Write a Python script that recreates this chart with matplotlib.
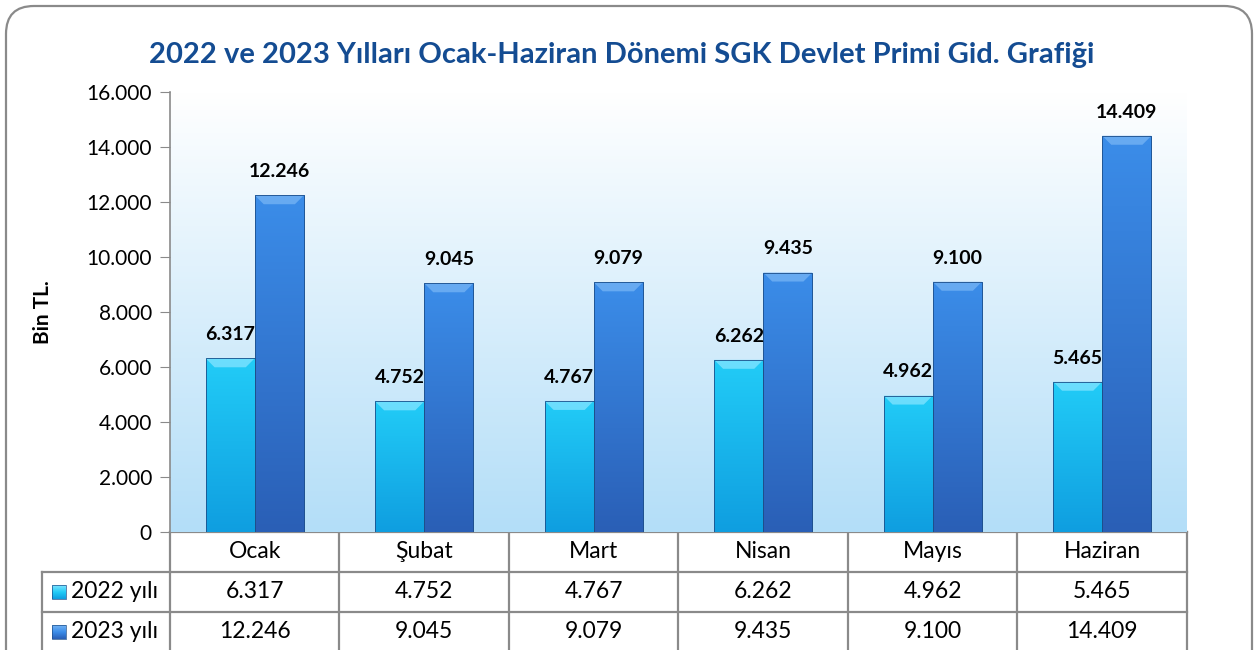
import matplotlib.pyplot as plt
import numpy as np
from matplotlib.patches import FancyBboxPatch, Rectangle, Polygon
from matplotlib.colors import LinearSegmentedColormap

months = ['Ocak', 'Şubat', 'Mart', 'Nisan', 'Mayıs', 'Haziran']
y2022 = [6317, 4752, 4767, 6262, 4962, 5465]
y2023 = [12246, 9045, 9079, 9435, 9100, 14409]
series_names = ['2022 yılı', '2023 yılı']
title = '2022 ve 2023 Yılları Ocak-Haziran Dönemi SGK Devlet Primi Gid. Grafiği'

plt.rcParams['font.family'] = ['Lato', 'DejaVu Sans']

W, H = 1259, 650
fig = plt.figure(figsize=(W / 100, H / 100), dpi=100)

# pixel overlay for frame and table
bg = fig.add_axes([0, 0, 1, 1])
bg.set_xlim(0, W)
bg.set_ylim(H, 0)
bg.axis('off')
bg.add_patch(FancyBboxPatch((6, 6), 1246, 700, boxstyle='round,pad=0,rounding_size=28',
                            fc='white', ec='#8a8a8a', lw=1.6))

left, right, top, bottom = 170, 1187, 92, 532
ax = fig.add_axes([left / W, 1 - bottom / H, (right - left) / W, (bottom - top) / H])
ax.set_xlim(-0.5, 5.5)
ax.set_ylim(0, 16000)

fmt = lambda v: f'{v:,}'.replace(',', '.')

# background gradient, white on top
bgmap = LinearSegmentedColormap.from_list('bgg', ['#ffffff', '#b3def8'])
ax.imshow(np.linspace(0, 1, 256).reshape(-1, 1), cmap=bgmap, aspect='auto',
          extent=[-0.5, 5.5, 0, 16000], zorder=0)

colors = [('#22ccf7', '#0f9ee0', '#7fe3ff'), ('#3b8de9', '#2a5fb6', '#73b2f4')]
bw = 0.29
dx = 9 / ((right - left) / 6)
dy = 9 * 16000 / (bottom - top)
x = np.arange(len(months))
for s, (vals, (ctop, cbot, clight)) in enumerate(zip([y2022, y2023], colors)):
    cmap = LinearSegmentedColormap.from_list('b%d' % s, [ctop, cbot])
    for i, v in enumerate(vals):
        x0 = x[i] - bw + s * bw
        rect = Rectangle((x0, 0), bw, v, fc='none', ec='#1d4f8a', lw=0.6, zorder=3)
        ax.add_patch(rect)
        im = ax.imshow(np.linspace(0, 1, 128).reshape(-1, 1), cmap=cmap, aspect='auto',
                       extent=[x0, x0 + bw, 0, v], zorder=2)
        im.set_clip_path(rect)
        ax.add_patch(Polygon([(x0, v), (x0 + bw, v), (x0 + bw - dx, v - dy), (x0 + dx, v - dy)],
                             fc=clight, ec='none', alpha=0.8, zorder=2.5))
        ax.text(x0 + bw / 2, v + 550, fmt(v), ha='center', va='bottom',
                fontsize=14, fontweight='bold', color='black', zorder=4)

ax.set_xticks([])
ax.set_yticks(np.arange(0, 16001, 2000))
ax.set_yticklabels([fmt(t) for t in range(0, 16001, 2000)], fontsize=15)
ax.tick_params(axis='y', length=7, color='#8a8a8a', pad=6)
for sp in ['top', 'right', 'bottom']:
    ax.spines[sp].set_visible(False)
ax.spines['left'].set_color('#8a8a8a')
ax.spines['left'].set_linewidth(1.2)
ax.set_ylabel('Bin TL.', fontsize=15, fontweight='bold', labelpad=24)

fig.text(622 / W, 1 - 55 / H, title, ha='center', va='center', fontsize=21,
         fontweight='bold', color='#144c92')

# data table
cw = (right - left) / 6
rows = [532, 572, 612, 652]
lc = '#8a8a8a'
bg.plot([left, right], [rows[0], rows[0]], color=lc, lw=1.6)
bg.plot([42, right], [rows[1], rows[1]], color=lc, lw=1.6)
bg.plot([42, right], [rows[2], rows[2]], color=lc, lw=1.6)
bg.plot([42, 42], [rows[1], rows[3]], color=lc, lw=1.6)
for j in range(7):
    xx = left + j * cw
    bg.plot([xx, xx], [rows[0], rows[3]], color=lc, lw=1.6)
for j, m in enumerate(months):
    bg.text(left + (j + 0.5) * cw, (rows[0] + rows[1]) / 2, m, ha='center', va='center', fontsize=16.5)
for r, (name, vals, (ctop, cbot, clight)) in enumerate(zip(series_names, [y2022, y2023], colors)):
    yc = (rows[r + 1] + rows[r + 2]) / 2
    cmap = LinearSegmentedColormap.from_list('l%d' % r, [clight, ctop, cbot])
    bg.imshow(np.linspace(0, 1, 32).reshape(-1, 1), cmap=cmap, aspect='auto',
              extent=[52, 66, yc + 7, yc - 7], zorder=3)
    bg.add_patch(Rectangle((52, yc - 7), 14, 14, fc='none', ec='#1d4f8a', lw=0.5, zorder=4))
    bg.text(71, yc, name, ha='left', va='center', fontsize=16.5)
    for j, v in enumerate(vals):
        bg.text(left + (j + 0.5) * cw, yc, fmt(v), ha='center', va='center', fontsize=16.5)
bg.set_xlim(0, W)
bg.set_ylim(H, 0)

fig.savefig('out.png', dpi=100)
